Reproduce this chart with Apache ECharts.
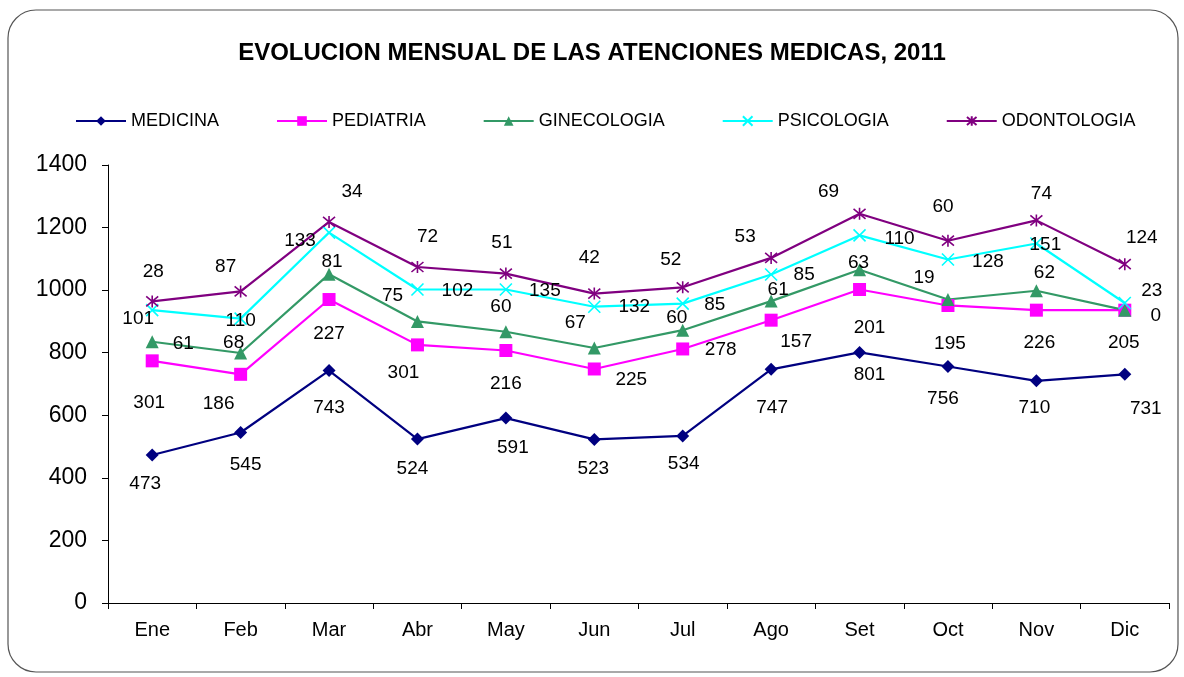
<!DOCTYPE html>
<html><head><meta charset="utf-8">
<script src="https://cdn.jsdelivr.net/npm/echarts@6/dist/echarts.min.js"></script>
<style>html,body{margin:0;padding:0;background:#fff}#c{width:1184px;height:677px}</style>
</head><body><div id="c"></div>
<script>
const categories = ['Ene','Feb','Mar','Abr','May','Jun','Jul','Ago','Set','Oct','Nov','Dic'];
const medicina    = [473,545,743,524,591,523,534,747,801,756,710,731];
const pediatria   = [301,186,227,301,216,225,278,157,201,195,226,205];
const ginecologia = [61,68,81,75,60,67,60,61,63,19,62,0];
const psicologia  = [101,110,133,102,135,132,85,85,110,128,151,23];
const odontologia = [28,87,34,72,51,42,52,53,69,60,74,124];
const yTicks = [0,200,400,600,800,1000,1200,1400];

// label offsets (style only)
const offMed = [[-7,29],[5,32],[0,37],[-5,30],[7,30],[-1,29],[1,28],[1,38],[10,22],[-5,32],[-2,27],[21,34]];
const offPed = [[-3,42],[-22,29],[0,34],[-14,28],[0,33],[37,11],[38,1],[25,22],[10,38],[2,38],[3,33],[-1,33]];
const offGin = [[31,2],[-7,-10],[3,-12],[-25,-26],[-5,-25],[-19,-25],[-6,-12],[7,-11],[-1,-7],[-24,-22],[8,-18],[31,6]];
const offPsi = [[-14,9],[0,2],[-29,8],[40,1],[39,1],[40,0],[32,1],[33,0],[40,3],[40,2],[9,1],[27,-12]];
const offOdo = [[1,-30],[-15,-25],[23,-30],[10,-30],[-4,-31],[-5,-36],[-12,-28],[-26,-21],[-31,-22],[-5,-34],[5,-27],[17,-26]];

const FONT = '"Liberation Sans", Arial, sans-serif';
function mk(name, vals, offs, color, symbol, size, extraItem) {
  return {
    name, type: 'line', stack: 'total', data: vals.map((v, i) => ({value: v, label: {offset: offs[i]}})),
    symbol, symbolSize: size,
    lineStyle: {color, width: 2.2},
    itemStyle: Object.assign({color}, extraItem || {}),
    label: {show: true, position: 'inside', color: '#000', fontSize: 19, fontFamily: FONT, formatter: p => p.value},
    emphasis: {disabled: true}, animation: false
  };
}
const xPath = 'path://M0,0L10,10M10,0L0,10';
const starPath = 'path://M0,0L10,10M10,0L0,10M5,-1L5,11';
const chart = echarts.init(document.getElementById('c'));
chart.setOption({
  animation: false,
  title: {text: 'EVOLUCION MENSUAL DE LAS ATENCIONES MEDICAS, 2011', left: 'center', top: 36,
    textStyle: {fontFamily: FONT, fontSize: 24, fontWeight: 'bold', color: '#000'}},
  legend: {top: 107, left: 70, itemWidth: 50, itemHeight: 12, itemGap: 57,
    textStyle: {fontFamily: FONT, fontSize: 18, color: '#000'},
    data: ['MEDICINA','PEDIATRIA','GINECOLOGIA','PSICOLOGIA','ODONTOLOGIA']},
  grid: {left: 108, right: 15, top: 165, bottom: 74},
  xAxis: {type: 'category', data: categories, boundaryGap: true,
    axisLine: {lineStyle: {color: '#000', width: 1}},
    axisTick: {show: true, alignWithLabel: false, length: 6, lineStyle: {color: '#000'}},
    axisLabel: {color: '#000', fontSize: 20, fontFamily: FONT, margin: 17}},
  yAxis: {type: 'value', min: 0, max: 1400, interval: 200,
    axisLine: {show: true, lineStyle: {color: '#000', width: 1}},
    axisTick: {show: true, length: 6, lineStyle: {color: '#000'}},
    splitLine: {show: false},
    axisLabel: {color: '#000', fontSize: 23, fontFamily: FONT, margin: 21,
      formatter: v => yTicks.includes(v) ? String(v) : ''}},
  graphic: [{type: 'rect', shape: {x: 8, y: 10, width: 1170, height: 662, r: 28},
    style: {fill: 'none', stroke: '#555', lineWidth: 1.2}, z: -1, silent: true}],
  series: [
    mk('MEDICINA', medicina, offMed, '#000080', 'diamond', 13),
    mk('PEDIATRIA', pediatria, offPed, '#FF00FF', 'rect', 13),
    mk('GINECOLOGIA', ginecologia, offGin, '#339966', 'triangle', 13),
    mk('PSICOLOGIA', psicologia, offPsi, '#00FFFF', xPath, 12, {borderColor: '#00FFFF', borderWidth: 1.6}),
    mk('ODONTOLOGIA', odontologia, offOdo, '#800080', starPath, 12, {borderColor: '#800080', borderWidth: 1.6})
  ]
});
</script></body></html>
